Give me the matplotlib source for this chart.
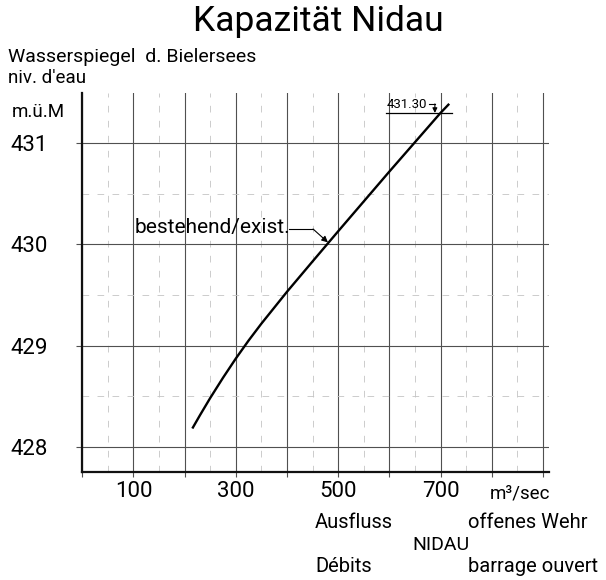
import numpy as np
import matplotlib
matplotlib.use("Agg")
import matplotlib.pyplot as plt

plt.rcParams["font.family"] = ["Roboto", "DejaVu Sans"]

# rating curve: discharge (m3/s) vs lake level (m ü.M.)
discharge = [215, 230, 250, 275, 300, 325, 350, 400, 450, 500, 550, 600, 650, 700, 717]
lake_level = [428.18, 428.312, 428.482, 428.682, 428.872, 429.05, 429.217, 429.532,
              429.832, 430.13, 430.425, 430.72, 431.01, 431.30, 431.39]

x_major = list(range(0, 901, 100))
x_minor = list(range(50, 901, 100))
x_labels = ["" if v not in (100, 300, 500, 700) else str(v) for v in x_major]
y_major = [428, 429, 430, 431]
y_minor = [428.5, 429.5, 430.5]
y_labels = ["428", "429", "430", "431"]

mark_level = 431.30
mark_text = "431.30"
curve_label = "bestehend/exist."

fig = plt.figure(figsize=(6.06, 5.80), dpi=100)
ax = fig.add_axes([82.3 / 606, 1 - 472 / 580, (549 - 82.3) / 606, (472 - 93.3) / 580])
ax.set_xlim(0, 912)
ax.set_ylim(427.75, 431.494)

ax.set_xticks(x_major)
ax.set_xticklabels(x_labels)
ax.set_xticks(x_minor, minor=True)
ax.set_yticks(y_major)
ax.set_yticklabels(y_labels)
ax.set_yticks(y_minor, minor=True)

ax.grid(which="major", color="#505050", lw=0.8)
ax.grid(which="minor", color="#c4c4c4", lw=0.6, ls=(0, (8, 10)))
ax.set_axisbelow(True)

for s in ["top", "right"]:
    ax.spines[s].set_visible(False)
for s in ["left", "bottom"]:
    ax.spines[s].set_linewidth(1.6)
    ax.spines[s].set_color("#111111")

ax.tick_params(axis="x", which="major", direction="out", length=3.5, width=0.8,
               color="#505050", pad=3, labelsize=16)
ax.tick_params(axis="y", which="major", direction="out", length=4.5, width=0.8,
               color="#505050", pad=20, labelsize=16)
ax.tick_params(which="minor", length=0)

ax.plot(discharge, lake_level, color="black", lw=1.7, solid_capstyle="butt",
        solid_joinstyle="round")

# label of the curve with its leader
ax.text(103, 430.17, curve_label, fontsize=15, va="center", ha="left")
ax.plot([404, 451], [430.152, 430.152], color="black", lw=0.8)
ax.annotate("", xy=(480, 430.02), xytext=(451, 430.152),
            arrowprops=dict(arrowstyle="-|>", color="black", lw=0.8,
                            mutation_scale=9, shrinkA=0, shrinkB=0))

# 431.30 marker
ax.plot([594, 723], [mark_level, mark_level], color="black", lw=0.9)
ax.text(595, 431.385, mark_text, fontsize=9.5, va="center", ha="left")
ax.plot([677, 689], [431.389, 431.389], color="black", lw=0.8)
ax.annotate("", xy=(689, mark_level), xytext=(689, 431.389),
            arrowprops=dict(arrowstyle="-|>", color="black", lw=0.8,
                            mutation_scale=7, shrinkA=0, shrinkB=0))

def ftext(px, py, s, **kw):
    fig.text(px / 606, 1 - py / 580, s, va="center", **kw)

ftext(318, 21, "Kapazität Nidau", fontsize=25.5, ha="center")
ftext(8, 57, "Wasserspiegel  d. Bielersees", fontsize=14, ha="left")
ftext(8, 78, "niv. d'eau", fontsize=13.5, ha="left")
ftext(12, 112, "m.ü.M", fontsize=13.5, ha="left")
ftext(490, 493, "m³/sec", fontsize=13.5, ha="left")
ftext(315, 522, "Ausfluss", fontsize=14.5, ha="left")
ftext(468, 522, "offenes Wehr", fontsize=14.5, ha="left")
ftext(412, 545, "NIDAU", fontsize=14, ha="left")
ftext(315, 567, "Débits", fontsize=14.5, ha="left")
ftext(468, 567, "barrage ouvert", fontsize=14.5, ha="left")

fig.savefig("out.png", dpi=100)
